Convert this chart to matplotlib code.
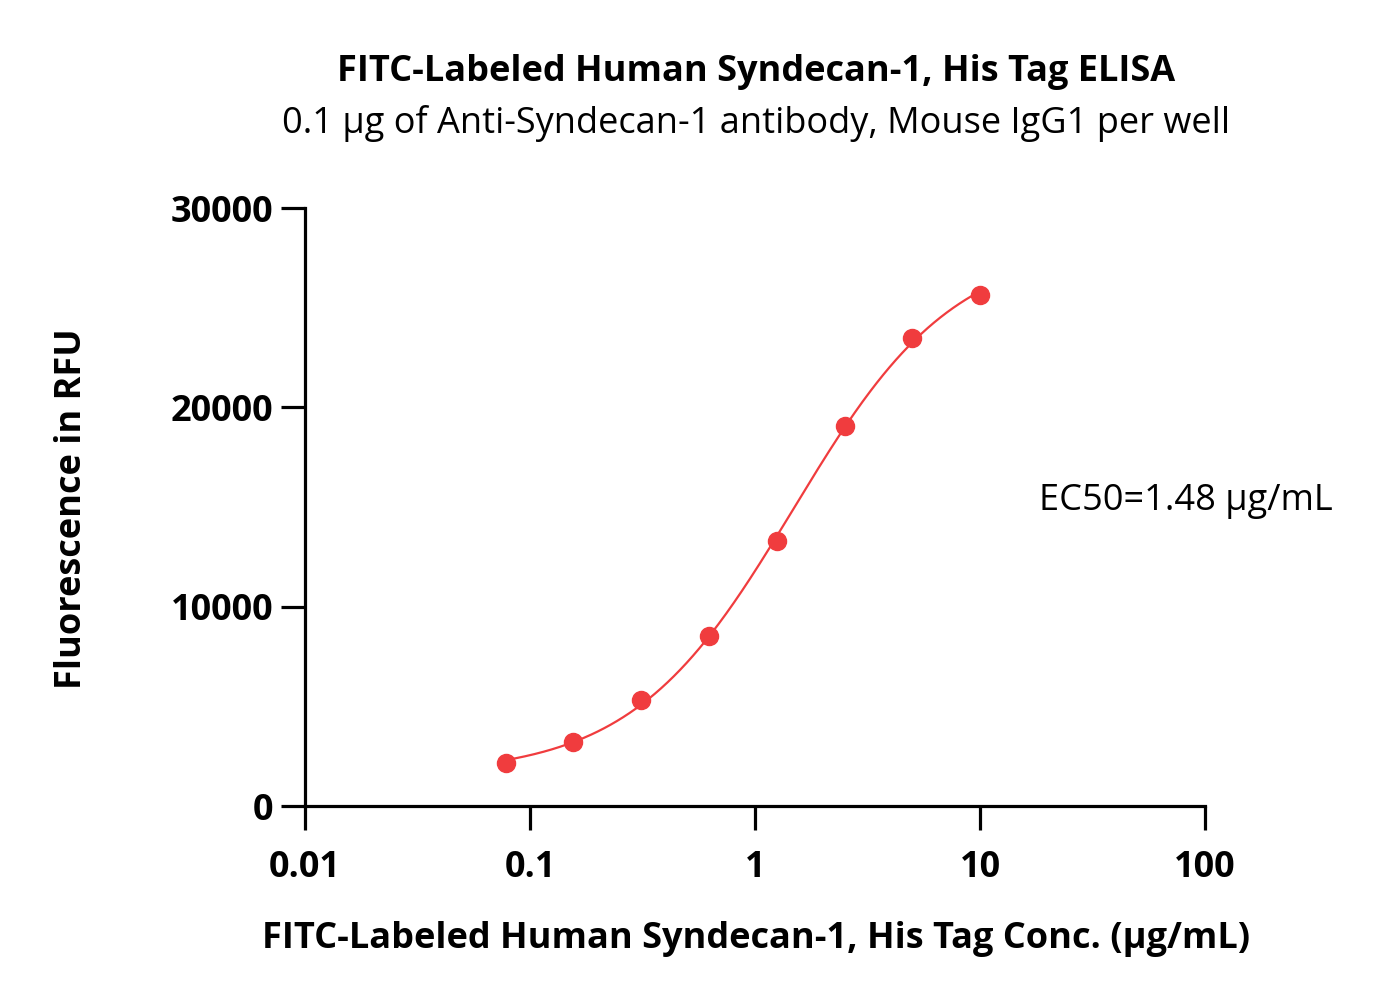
import numpy as np
import matplotlib
matplotlib.use("Agg")
import matplotlib.pyplot as plt

plt.rcParams['font.family'] = ['Open Sans', 'DejaVu Sans']

conc = [0.078, 0.156, 0.3125, 0.625, 1.25, 2.5, 5.0, 10.0]
rfu = [2160, 3210, 5320, 8530, 13300, 19070, 23480, 25640]
ec50 = 1.48
x_ticks = [0.01, 0.1, 1, 10, 100]
x_ticklabels = ["0.01", "0.1", "1", "10", "100"]
y_ticks = [0, 10000, 20000, 30000]

title = "FITC-Labeled Human Syndecan-1, His Tag ELISA"
subtitle = "0.1 µg of Anti-Syndecan-1 antibody, Mouse IgG1 per well"
xlabel = "FITC-Labeled Human Syndecan-1, His Tag Conc. (µg/mL)"
ylabel = "Fluorescence in RFU"
ec50_text = "EC50=1.48 µg/mL"
color = "#F03C3E"

x = np.array(conc)
y = np.array(rfu)

# 4PL fit with fixed EC50: grid on hill slope, linear least squares for bottom/top
best = None
for h in np.linspace(0.5, 3.0, 501):
    r = (x / ec50) ** h
    f = r / (1 + r)
    A = np.column_stack([1 - f, f])
    coef, *_ = np.linalg.lstsq(A, y, rcond=None)
    err = np.sum((A @ coef - y) ** 2)
    if best is None or err < best[0]:
        best = (err, h, coef)
_, hill, (bottom, top) = best
xs = np.logspace(np.log10(conc[0]), np.log10(conc[-1]), 300)
rs = (xs / ec50) ** hill
ys = bottom + (top - bottom) * rs / (1 + rs)

fig = plt.figure(figsize=(13.79, 10.02), dpi=100)
ax = fig.add_axes([0.2212, 0.1956, 0.6526, 0.5968])
ax.plot(xs, ys, color=color, lw=1.6, zorder=2)
ax.plot(x, y, 'o', color=color, ms=13, zorder=3)

ax.set_xscale('log')
ax.set_xlim(0.01, 100)
ax.set_ylim(0, 30000)
ax.set_xticks(x_ticks)
ax.set_xticklabels(x_ticklabels)
ax.set_yticks(y_ticks)
ax.set_yticklabels([str(v) for v in y_ticks])
ax.xaxis.set_minor_locator(matplotlib.ticker.NullLocator())

for s in ['top', 'right']:
    ax.spines[s].set_visible(False)
for s in ['left', 'bottom']:
    ax.spines[s].set_linewidth(2.3)
ax.tick_params(axis='both', which='major', direction='out', length=17, width=2.3,
               labelsize=26)
ax.tick_params(axis='x', pad=15)
ax.tick_params(axis='y', pad=6)
for lab in ax.get_xticklabels() + ax.get_yticklabels():
    lab.set_fontweight('bold')

ax.set_xlabel(xlabel, fontsize=26, fontweight='bold', va='center')
ax.xaxis.set_label_coords(0.501, -0.222)
ax.set_ylabel(ylabel, fontsize=26, fontweight='bold', va='center')
ax.yaxis.set_label_coords(-0.259, 0.498)

fig.text(0.548, 0.928, title, ha='center', va='center', fontsize=26, fontweight='bold')
fig.text(0.548, 0.877, subtitle, ha='center', va='center', fontsize=26)
fig.text(0.860, 0.500, ec50_text, ha='center', va='center', fontsize=26)

fig.savefig("out.png", dpi=100)
